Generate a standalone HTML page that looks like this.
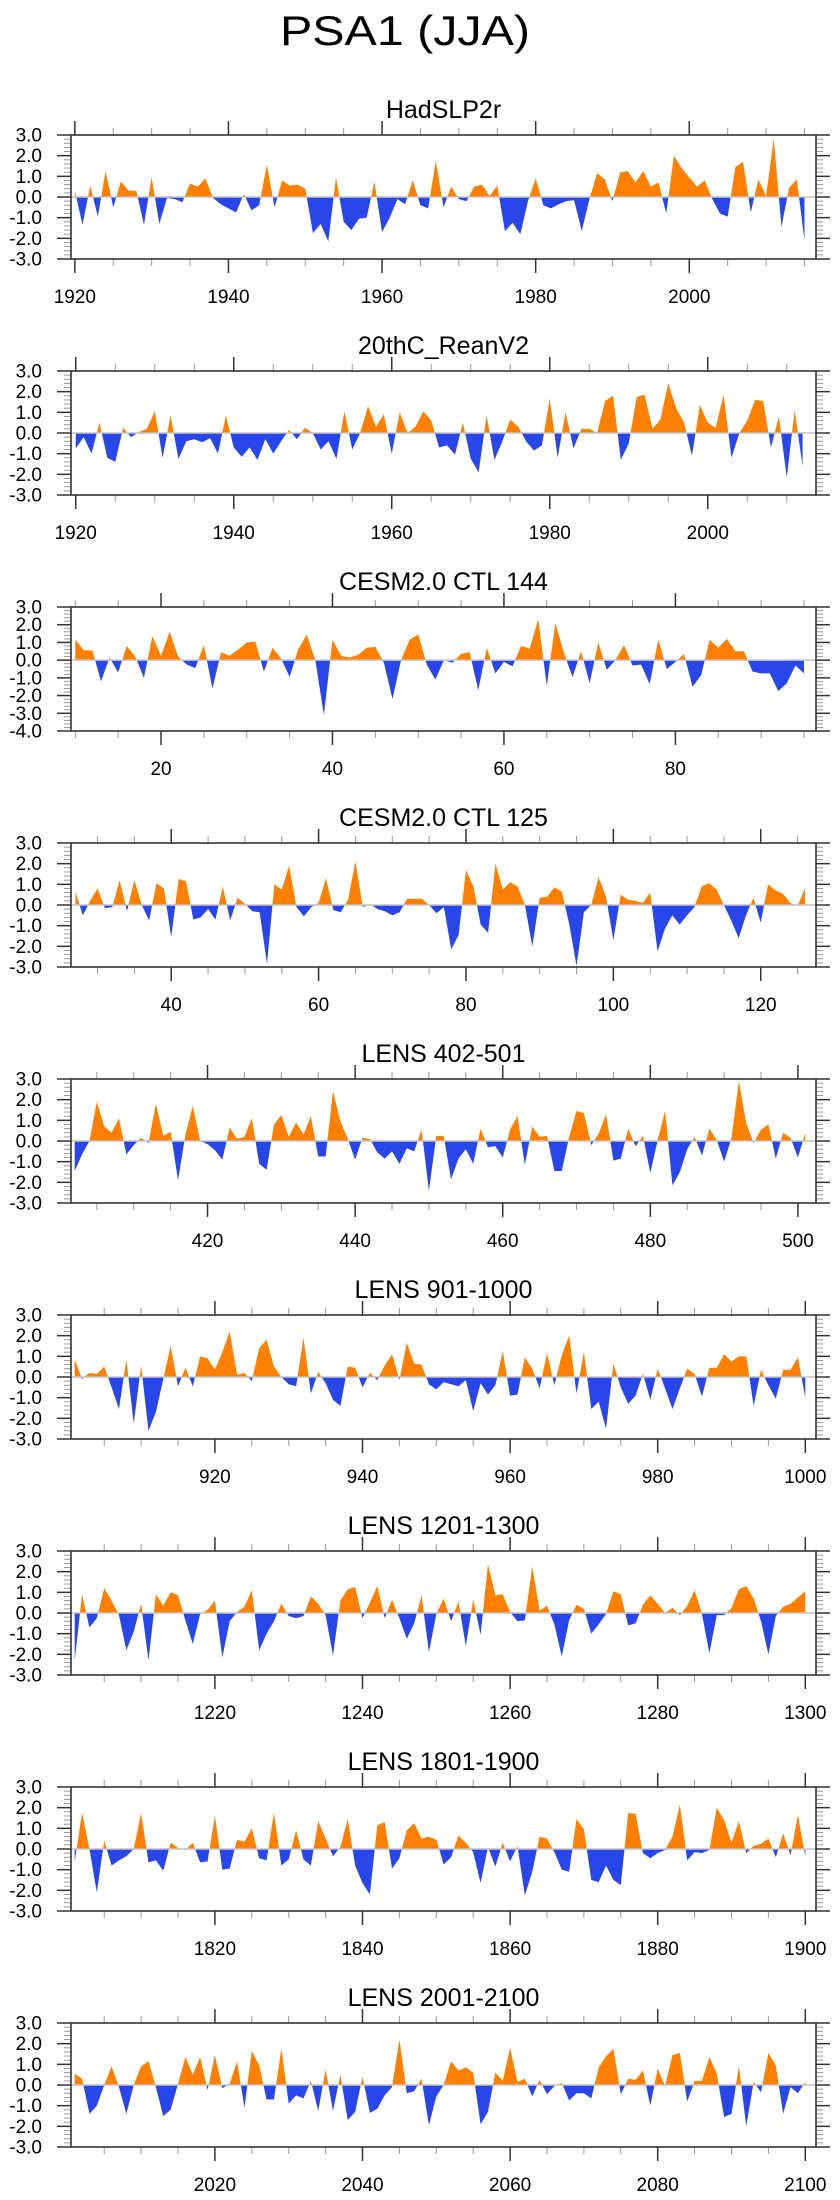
<!DOCTYPE html>
<html>
<head>
<meta charset="utf-8">
<style>
  html, body { margin: 0; padding: 0; background: #fff; }
  svg { display: block; }
  text { font-family: "Liberation Sans", Arial, sans-serif; fill: #000; }
</style>
</head>
<body>
<svg id="chart" width="840" height="2200" viewBox="0 0 840 2200" xmlns="http://www.w3.org/2000/svg">
  <text x="405" y="45" font-size="42" text-anchor="middle" textLength="250" lengthAdjust="spacingAndGlyphs">PSA1 (JJA)</text>
</svg>
<script>
// ---- data ----
const panelTitles = ["HadSLP2r", "20thC_ReanV2", "CESM2.0 CTL 144", "CESM2.0 CTL 125", "LENS 402-501", "LENS 901-1000", "LENS 1201-1300", "LENS 1801-1900", "LENS 2001-2100"];
const startYears = [1920, 1920, 10, 27, 402, 901, 1201, 1801, 2001];
const xMins = [1919.5, 1919.4, 9.5, 26.4, 401.5, 900.5, 1200.5, 1800.5, 2000.5];
const xMaxs = [2016.5, 2013.7, 96.4, 127.5, 502.45, 1001.45, 1301.45, 1901.45, 2101.45];
const yMins = [-3, -3, -4, -3, -3, -3, -3, -3, -3];
const yMaxs = [3, 3, 3, 3, 3, 3, 3, 3, 3];

const hadslpValues = [0.3,-1.35,0.55,-0.95,1.25,-0.5,0.75,0.3,0.3,-1.35,0.95,-1.3,-0.05,-0.1,-0.25,0.65,0.5,0.9,-0.05,-0.35,-0.55,-0.75,0.15,-0.65,-0.4,1.55,-0.5,0.8,0.55,0.6,0.4,-1.75,-1.3,-2.15,0.95,-1.2,-1.6,-1.05,-1.0,0.75,-1.7,-1.0,-0.1,-0.35,0.8,-0.4,-0.55,1.75,-0.5,0.5,-0.1,-0.2,0.5,0.6,0.05,0.55,-1.65,-1.25,-1.8,-0.2,0.9,-0.4,-0.55,-0.35,-0.2,-0.15,-1.65,-0.1,1.15,0.85,-0.2,1.2,1.25,0.7,1.25,0.5,0.7,-0.8,2.0,1.4,0.95,0.5,0.8,-0.1,-0.8,-0.95,1.45,1.7,-0.75,0.85,0.05,2.8,-1.45,0.45,0.85,-2.1];
const reanValues = [-0.75,-0.2,-1.0,0.5,-1.2,-1.4,0.25,-0.2,0.05,0.2,1.05,-1.2,0.85,-1.25,-0.4,-0.3,-0.45,-0.25,-1.0,0.85,-0.7,-1.15,-0.7,-1.3,-0.3,-1.0,-0.4,0.15,-0.3,0.25,0.0,-0.8,-0.4,-1.25,1.05,-0.8,0.0,1.3,0.3,0.9,-1.0,1.0,0.0,0.3,1.05,0.6,-0.7,-0.6,-1.05,0.5,-1.25,-1.9,0.85,-1.3,-0.4,0.65,0.3,-0.4,-0.85,-0.6,1.65,-1.2,1.0,-0.75,0.2,0.2,0.0,1.55,1.8,-1.3,-0.5,1.75,1.85,0.2,0.65,2.4,1.2,0.5,-1.1,1.35,0.5,0.25,1.85,-1.2,0.0,0.6,1.6,1.55,-0.7,0.8,-2.15,1.1,-1.6];
const ctl144Values = [1.15,0.55,0.55,-1.2,0.15,-0.7,0.8,0.2,-1.0,1.35,0.25,1.6,0.2,-0.25,-0.45,0.85,-1.6,0.45,0.25,0.6,1.0,1.05,-0.65,0.7,0.1,-0.95,0.6,1.45,0.0,-3.1,1.15,0.25,0.15,0.3,0.7,0.75,-0.15,-2.2,0.0,1.15,1.45,-0.25,-1.1,0.0,-0.15,0.35,0.45,-1.7,0.7,-0.75,-0.1,-0.35,0.8,0.65,2.3,-1.45,2.1,0.4,-0.95,0.5,-1.3,1.0,-0.55,0.0,0.85,-0.3,-0.25,-1.35,1.15,-0.5,-0.1,0.35,-1.5,-0.85,1.15,0.7,1.2,0.5,0.5,-0.65,-0.75,-0.75,-1.75,-1.3,-0.3,-0.75];
const ctl125Values = [0.65,-0.5,0.2,0.8,-0.15,-0.1,1.2,-0.3,1.2,0.0,-0.75,1.05,0.8,-1.55,1.25,1.15,-0.7,-0.6,-0.2,-0.7,0.9,-0.75,0.35,0.05,-0.3,-0.35,-2.85,1.0,0.75,1.9,-0.1,-0.55,-0.1,0.1,1.3,-0.25,-0.35,0.25,2.1,-0.1,0.05,-0.2,-0.3,-0.5,-0.35,0.3,0.3,0.3,0.0,-0.4,-0.1,-2.15,-1.45,1.7,0.9,-0.95,-1.35,2.0,0.75,1.1,0.9,0.0,-2.0,0.35,0.4,0.85,0.65,-0.9,-2.95,-0.35,0.0,1.35,0.4,-1.7,0.5,0.25,0.2,0.1,0.6,-2.25,-1.15,-0.5,-0.95,-0.5,-0.1,0.9,1.05,0.75,0.0,-0.75,-1.6,-0.5,0.35,-0.85,1.0,0.7,0.55,0.1,-0.05,0.8];
const lens402Values = [-1.45,-0.65,0.0,1.9,0.7,0.4,1.1,-0.65,-0.2,0.15,-0.1,1.8,0.25,0.45,-1.9,0.3,1.7,0.0,-0.15,-0.45,-0.9,0.65,0.1,0.2,1.1,-1.1,-1.4,0.8,1.25,0.2,0.9,0.3,1.2,-0.75,-0.75,2.4,0.95,0.1,-0.9,0.15,0.1,-0.55,-0.85,-0.5,-1.1,-0.35,-0.5,0.55,-2.4,0.25,0.25,-1.85,-0.85,-0.4,-1.1,0.6,-0.3,-0.25,-0.8,0.55,1.2,-1.15,0.7,0.2,0.25,-1.45,-1.45,0.2,1.45,1.35,-0.2,0.35,1.3,-0.95,-0.85,0.6,-0.25,0.25,-1.55,0.05,1.45,-2.15,-1.5,-0.4,0.2,-0.7,0.6,0.05,-1.0,0.15,2.9,0.85,-0.1,0.55,0.8,-0.85,0.4,0.15,-0.8,0.4];
const lens901Values = [0.85,-0.1,0.2,0.15,0.5,-0.5,-1.55,0.85,-2.25,0.55,-2.6,-1.7,-0.1,1.5,-0.45,0.45,-0.45,1.0,0.9,0.35,1.2,2.2,0.1,0.2,-0.2,1.4,1.8,0.5,0.0,-0.35,-0.45,1.9,-0.8,0.25,-0.3,-1.1,-1.4,0.5,0.45,-0.5,0.2,-0.15,0.55,1.1,-0.15,1.65,0.65,0.6,-0.35,-0.6,-0.25,-0.35,-0.45,-0.15,-1.65,-0.3,-0.85,-0.4,1.25,-0.9,-0.85,0.95,0.4,-0.55,1.15,-0.4,1.05,2.0,-0.8,1.2,-1.55,-1.2,-2.5,0.65,-0.5,-1.3,-0.9,0.15,-1.1,0.4,-0.55,-1.55,-0.55,0.4,0.15,-0.95,0.45,0.45,1.1,0.75,1.0,1.0,-1.4,0.35,-0.4,-1.05,0.35,0.35,0.95,-1.0];
const lens1201Values = [-2.3,0.9,-0.7,-0.25,1.2,0.6,-0.1,-1.8,-0.9,0.45,-2.3,0.9,0.35,1.0,0.85,-0.35,-1.5,-0.05,0.15,0.6,-2.15,-0.4,0.05,0.3,1.1,-1.8,-1.0,-0.4,0.45,-0.15,-0.25,-0.15,0.8,0.45,-0.1,-2.05,0.6,1.15,1.25,-0.25,0.5,1.3,-0.25,0.65,-0.25,-1.25,-0.5,0.85,-1.9,-0.05,0.7,-0.4,0.55,-1.6,0.65,-1.05,2.35,0.85,0.9,0.05,-0.4,-0.35,2.25,0.1,0.35,-0.55,-2.1,-0.35,0.4,0.2,-1.0,-0.55,-0.05,1.05,0.9,-0.6,-0.5,0.4,0.85,0.45,0.0,0.25,-0.1,0.35,1.1,-0.05,-1.95,-0.1,-0.1,0.25,1.15,1.3,0.7,-0.4,-2.0,-0.15,0.3,0.45,0.75,1.05];
const lens1801Values = [-0.6,1.75,0.0,-2.1,0.4,-0.8,-0.55,-0.35,0.0,1.75,-0.65,-0.55,-1.05,0.3,0.05,-0.05,0.3,-0.65,-0.6,1.6,-1.0,-0.95,0.45,0.35,1.0,-0.45,-0.55,1.75,-0.8,-0.5,0.9,-0.5,-0.8,1.35,0.5,-0.35,0.1,1.45,-0.8,-1.65,-2.2,1.15,1.3,-0.95,-0.45,0.9,1.25,0.5,0.6,0.45,-0.75,-0.4,0.65,0.3,-0.15,-1.65,0.1,-0.85,0.3,-0.6,0.15,-2.25,-1.1,0.6,0.5,-0.15,-1.0,-1.1,1.45,0.95,-1.5,-1.6,-0.8,-1.5,-1.75,1.75,1.7,-0.2,-0.45,-0.2,-0.05,0.6,2.15,-0.55,-0.15,-0.2,-0.05,2.0,1.4,0.3,1.35,-0.2,0.15,0.25,0.5,-0.4,0.75,-0.3,1.65,-0.35];
const lens2001Values = [0.55,0.3,-1.4,-1.0,0.0,0.9,-0.1,-1.4,0.0,0.9,1.15,-0.1,-1.5,-1.2,0.05,1.35,0.5,1.35,-0.25,1.45,-0.15,0.05,1.15,-1.1,1.65,0.95,-0.7,-0.7,1.75,-0.9,-0.5,-0.65,0.2,-1.25,0.75,-1.25,0.5,-1.7,-1.3,0.4,-1.35,-1.15,-0.5,-0.1,2.2,-0.4,-0.3,0.3,-1.95,-0.55,0.0,1.15,0.7,0.85,0.6,-1.9,-1.3,0.6,0.2,1.8,0.15,0.3,-0.55,0.25,-0.45,-0.05,0.1,-0.75,-0.4,-0.4,-0.65,0.85,1.4,1.75,-0.45,0.3,0.25,0.7,-1.0,0.8,-0.05,1.45,1.55,-0.8,0.2,0.2,1.35,0.55,-1.55,-1.4,0.9,-2.0,0.15,-0.35,1.55,0.95,-1.4,-0.1,-0.4,0.15];
const panelValues = [hadslpValues, reanValues, ctl144Values, ctl125Values, lens402Values, lens901Values, lens1201Values, lens1801Values, lens2001Values];

const xTickLabels = [
  [1920, 1940, 1960, 1980, 2000],
  [1920, 1940, 1960, 1980, 2000],
  [20, 40, 60, 80],
  [40, 60, 80, 100, 120],
  [420, 440, 460, 480, 500],
  [920, 940, 960, 980, 1000],
  [1220, 1240, 1260, 1280, 1300],
  [1820, 1840, 1860, 1880, 1900],
  [2020, 2040, 2060, 2080, 2100]
];
const yTickLabels3 = ["3.0", "2.0", "1.0", "0.0", "-1.0", "-2.0", "-3.0"];
const yTickLabels4 = ["3.0", "2.0", "1.0", "0.0", "-1.0", "-2.0", "-3.0", "-4.0"];

// ---- layout ----
const NS = "http://www.w3.org/2000/svg";
const svg = document.getElementById("chart");
const LEFT = 71, RIGHT = 816, TOP0 = 135, STEP = 236, H = 124;
const ORANGE = "#ff8000", BLUE = "#2946ea";

function mk(tag, attrs, parent) {
  const e = document.createElementNS(NS, tag);
  for (const k in attrs) e.setAttribute(k, attrs[k]);
  (parent || svg).appendChild(e);
  return e;
}

for (let p = 0; p < panelValues.length; p++) {
  const top = TOP0 + STEP * p, bot = top + H;
  const xmin = xMins[p], xmax = xMaxs[p], ymin = yMins[p], ymax = yMaxs[p];
  const xs = v => LEFT + (v - xmin) / (xmax - xmin) * (RIGHT - LEFT);
  const ys = v => bot - (v - ymin) / (ymax - ymin) * H;
  const vals = panelValues[p], start = startYears[p];

  const g = mk("g", {});
  
  

  const title = mk("text", {x: (LEFT + RIGHT) / 2, y: top - 17, "font-size": 25, "text-anchor": "middle"}, g);
  title.textContent = panelTitles[p];
  
  

  // clip paths
  const y0 = ys(0);
  const defs = mk("defs", {}, g);
  const cpA = mk("clipPath", {id: "above" + p}, defs);
  mk("rect", {x: LEFT, y: top, width: RIGHT - LEFT, height: y0 - top}, cpA);
  const cpB = mk("clipPath", {id: "below" + p}, defs);
  mk("rect", {x: LEFT, y: y0, width: RIGHT - LEFT, height: bot - y0}, cpB);

  let d = "M" + xs(start).toFixed(2) + "," + y0.toFixed(2);
  for (let i = 0; i < vals.length; i++) {
    d += " L" + xs(start + i).toFixed(2) + "," + ys(vals[i]).toFixed(2);
  }
  d += " L" + xs(start + vals.length - 1).toFixed(2) + "," + y0.toFixed(2) + " Z";

  const areaPos = mk("path", {d: d, fill: ORANGE, "clip-path": "url(#above" + p + ")"}, g);
  
  
  const areaNeg = mk("path", {d: d, fill: BLUE, "clip-path": "url(#below" + p + ")"}, g);
  
  

  const zero = mk("line", {x1: LEFT, x2: RIGHT, y1: y0, y2: y0, stroke: "#c4c4c4", "stroke-width": 1.5}, g);
  
  

  // y ticks
  const yl = ymin === -4 ? yTickLabels4 : yTickLabels3;
  for (let v = ymin; v <= ymax + 1e-6; v += 0.2) {
    const vv = Math.round(v * 10) / 10;
    const major = Math.abs(vv - Math.round(vv)) < 1e-6;
    const yy = ys(vv);
    const len = major ? 14 : 7;
    const c = major ? "#333" : "#999";
    const w = major ? 1.5 : 1;
    mk("line", {x1: LEFT - len, x2: LEFT, y1: yy, y2: yy, stroke: c, "stroke-width": w}, g);
    mk("line", {x1: RIGHT, x2: RIGHT + len, y1: yy, y2: yy, stroke: c, "stroke-width": w}, g);
  }
  for (let i = 0; i < yl.length; i++) {
    const val = parseFloat(yl[i]);
    const t = mk("text", {x: 42, y: ys(val) + 6.5, "font-size": 19, "text-anchor": "end"}, g);
    t.textContent = yl[i];
    
    
  }

  // x ticks
  const firstMinor = Math.ceil(xmin / 5) * 5;
  for (let v = firstMinor; v <= xmax; v += 5) {
    const major = xTickLabels[p].indexOf(v) >= 0 || v % 20 === 0;
    const xx = xs(v);
    const len = major ? 14 : 7;
    const c = major ? "#333" : "#999";
    const w = major ? 1.5 : 1;
    mk("line", {x1: xx, x2: xx, y1: bot, y2: bot + len, stroke: c, "stroke-width": w}, g);
    mk("line", {x1: xx, x2: xx, y1: top - len, y2: top, stroke: c, "stroke-width": w}, g);
  }
  for (let i = 0; i < xTickLabels[p].length; i++) {
    const v = xTickLabels[p][i];
    const t = mk("text", {x: xs(v), y: bot + 44, "font-size": 19, "text-anchor": "middle"}, g);
    t.textContent = String(v);
    
    
  }

  const frame = mk("rect", {x: LEFT, y: top, width: RIGHT - LEFT, height: H, fill: "none", stroke: "#333", "stroke-width": 1.6}, g);
  
  
}
</script>
</body>
</html>
